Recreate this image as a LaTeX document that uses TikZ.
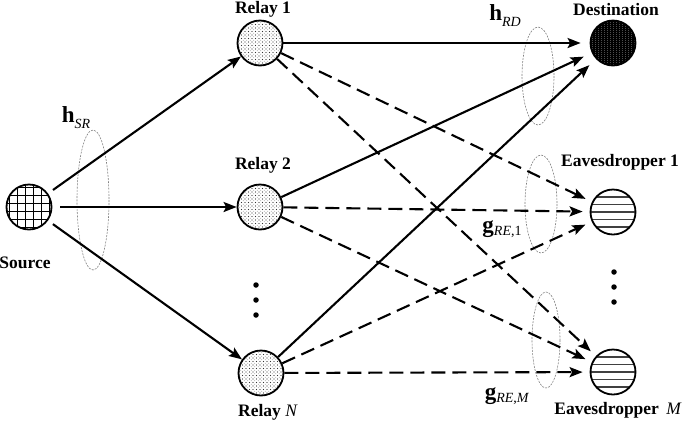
\documentclass[tikz,border=0pt]{standalone}
\usepackage{fontspec}
\setmainfont{Liberation Serif}
\usetikzlibrary{arrows.meta,calc}
\begin{document}
\begin{tikzpicture}[x=1pt,y=-1pt,
  nd/.style={circle, draw, line width=1.8pt, minimum size=45pt, inner sep=0pt},
  lab/.style={font=\fontsize{17.5}{19}\selectfont\bfseries, inner sep=0pt},
  sol/.style={line width=2.1pt, -{Stealth[length=13pt,width=10pt,inset=2.5pt]}},
  dsh/.style={sol, dash pattern=on 14pt off 7pt},
  ell/.style={draw=gray, line width=0.6pt, dash pattern=on 2pt off 1.2pt},
  dotsym/.style={circle, fill=black, inner sep=0pt, minimum size=5.5pt},
  mlab/.style={inner sep=0pt},
  gridfill/.style={path picture={\begin{scope}[shift={(path picture bounding box.center)}]
      \foreach \t in {-20,-12,...,20} {\draw[line width=1pt] (\t,-25) -- (\t,25); \draw[line width=1pt] (-25,\t) -- (25,\t);}
    \end{scope}}},
  dotfill/.style={path picture={\begin{scope}[shift={(path picture bounding box.center)}]
      \foreach \i in {-22,-18.5,...,22} {\foreach \j in {-22,-18.5,...,22} {\fill[black!80] (\i,\j) circle (0.65);}}
      \foreach \i in {-20.25,-16.75,...,22} {\foreach \j in {-20.25,-16.75,...,22} {\fill[black!60] (\i,\j) circle (0.45);}}
    \end{scope}}},
  hfill/.style={path picture={\begin{scope}[shift={(path picture bounding box.center)}]
      \foreach \t in {-15,-7.5,...,15} {\draw[line width=1.1pt, black!75] (-25,\t) -- (25,\t);}
    \end{scope}}},
  vfill/.style={fill=black, path picture={\begin{scope}[shift={(path picture bounding box.center)}]
      \foreach \t in {-21,-18,...,21} {\draw[line width=0.5pt, black!70, dash pattern=on 1pt off 1pt] (\t,-25) -- (\t,25);}
    \end{scope}}},
]
\useasboundingbox (0,0) rectangle (685,424);

% nodes
\node[nd, gridfill] (S) at (29,207) {};
\node[nd, dotfill] (R1) at (260,43) {};
\node[nd, dotfill] (R2) at (260,207) {};
\node[nd, dotfill] (RN) at (261,373) {};
\node[nd, vfill] (D) at (613,43) {};
\node[nd, hfill] (E1) at (613,212) {};
\node[nd, hfill] (EM) at (613,372) {};

% labels
\node[lab] (lS) at (25,263) {Source};
\node[lab] (lR1) at (263,9) {Relay 1};
\node[lab] (lR2) at (263,165) {Relay 2};
\node[lab] (lRN) at (268,412) {Relay \textit{\mdseries N}};
\node[lab] (lD) at (616,10) {Destination};
\node[lab] (lE1) at (620,162) {Eavesdropper 1};
\node[lab] (lEM) at (618,410) {Eavesdropper\, \textit{\mdseries M}};

% vertical dots
\node[dotsym] (d1) at (256,285) {};
\node[dotsym] (d2) at (256,300) {};
\node[dotsym] (d3) at (256,315) {};
\node[dotsym] (e1) at (614,272) {};
\node[dotsym] (e2) at (614,287) {};
\node[dotsym] (e3) at (614,302) {};

% ellipses
\draw[ell] (93,200) ellipse (16 and 70);
\draw[ell] (538,76) ellipse (16 and 49);
\draw[ell] (541,204) ellipse (16 and 49);
\draw[ell] (546,340) ellipse (14 and 48);

% source to relays
\draw[sol, shorten <=6pt] (S) -- (R1);
\draw[sol, shorten <=8pt] (S) -- (R2);
\draw[sol, shorten <=6pt] (S) -- (RN);

% relays to destination
\draw[sol, shorten >=9pt] (R1) -- (D);
\draw[sol, shorten >=9pt] (R2) -- (D);
\draw[sol, shorten >=9pt] (RN) -- (D);

% relays to eavesdroppers
\draw[dsh, shorten >=7pt] (R1) -- (E1);
\draw[dsh, shorten >=7pt] (R1) -- (EM);
\draw[dsh, shorten >=7pt] (R2) -- (E1);
\draw[dsh, shorten >=7pt] (R2) -- (EM);
\draw[dsh, shorten >=7pt] (RN) -- (E1);
\draw[dsh, shorten >=7pt] (RN) -- (EM);

% channel labels
\node[mlab] (hSR) at (76,118) {{\fontsize{23}{24}\selectfont\textbf{h}}\raisebox{-6pt}{\fontsize{14}{15}\selectfont\textit{SR}}};
\node[mlab] (hRD) at (505,16) {{\fontsize{23}{24}\selectfont\textbf{h}}\raisebox{-6pt}{\fontsize{14}{15}\selectfont\textit{RD}}};
\node[mlab] (g1) at (502,229) {{\fontsize{23}{24}\selectfont\textbf{g}}\raisebox{-3pt}{\fontsize{14}{15}\selectfont\textit{RE},1}};
\node[mlab] (gM) at (507,396) {{\fontsize{23}{24}\selectfont\textbf{g}}\raisebox{-3pt}{\fontsize{14}{15}\selectfont\textit{RE},\textit{M}}};
\end{tikzpicture}
\end{document}
